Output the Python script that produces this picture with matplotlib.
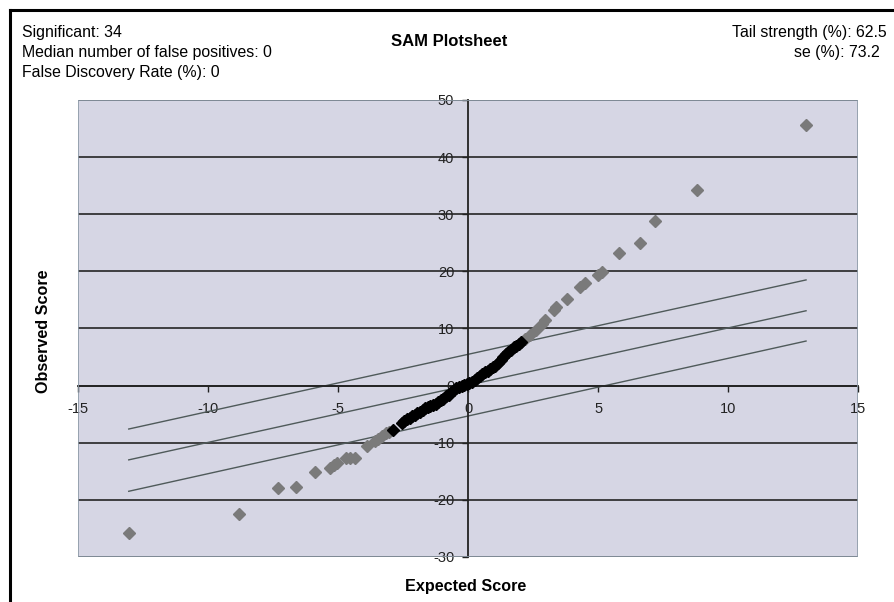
import matplotlib
matplotlib.use('Agg')
import matplotlib.pyplot as plt
from matplotlib.patches import Rectangle
from matplotlib.lines import Line2D

plt.rcParams['font.family'] = ['Liberation Sans', 'DejaVu Sans']
plt.rcParams['axes.unicode_minus'] = False

# significant genes (grey)
sig_x = [-13.05, -8.8, -7.3, -6.6, -5.9, -5.3, -5.15, -5.05, -4.7, -4.55,
         -4.35, -3.88, -3.58, -3.46, -3.3, -3.15, -3.05,
         2.2, 2.4, 2.6, 2.85, 2.95, 3.3, 3.4, 3.8, 4.3, 4.5,
         5.0, 5.15, 5.8, 6.6, 7.2, 8.8, 13.0]
sig_y = [-25.8, -22.4, -17.9, -17.8, -15.1, -14.4, -13.9, -13.6, -12.7, -12.7,
         -12.7, -10.6, -9.7, -9.3, -8.8, -8.3, -8.1,
         8.2, 8.9, 9.8, 10.8, 11.5, 13.2, 13.7, 15.2, 17.2, 17.9,
         19.4, 19.9, 23.2, 25.0, 28.8, 34.3, 45.6]

# non-significant genes (black)
ns_x = [-2.9, -2.55, -2.45, -2.35, -2.25, -2.15, -2.05, -1.95, -1.85, -1.75,
        -1.65, -1.55, -1.45, -1.35, -1.25, -1.15, -1.05, -0.95, -0.85,
        -0.75, -0.65, -0.55, -0.45, -0.35, -0.25, -0.15, -0.05, 0.05,
        0.15, 0.25, 0.35, 0.45, 0.55, 0.65, 0.75, 0.85, 0.95, 1.05, 1.15,
        1.25, 1.35, 1.45, 1.55, 1.65, 1.75, 1.85, 1.95, 2.05]
ns_y = [-7.7, -6.6, -6.2, -5.9, -5.6, -5.4, -5.1, -4.8, -4.6, -4.3,
        -4.0, -3.8, -3.6, -3.4, -3.2, -2.9, -2.6, -2.3, -1.9,
        -1.6, -1.2, -0.8, -0.5, -0.3, -0.1, 0.1, 0.2, 0.4,
        0.7, 1.0, 1.3, 1.7, 2.0, 2.3, 2.6, 2.9, 3.2, 3.5, 3.9,
        4.4, 5.0, 5.5, 5.9, 6.3, 6.7, 7.0, 7.3, 7.6]

# delta band lines
band_x = [-13.05, 13.0]
upper_y = [-7.6, 18.5]
middle_y = [-13.0, 13.1]
lower_y = [-18.5, 7.8]

x_ticks = [-15, -10, -5, 0, 5, 10, 15]
y_ticks = [-30, -20, -10, 0, 10, 20, 30, 40, 50]

fig = plt.figure(figsize=(8.95, 6.02), dpi=100)
ax = fig.add_axes([0.0872, 0.0748, 0.8715, 0.7591])
ax.set_facecolor('#d6d6e4')

ax.set_xlim(-15, 15)
ax.set_ylim(-30, 50)
ax.set_xticks(x_ticks)
ax.set_yticks(y_ticks)
ax.yaxis.grid(True, color='#333333', linewidth=1.3)
ax.set_axisbelow(True)

# excel style axes crossing at zero
ax.spines['left'].set_position(('data', 0))
ax.spines['bottom'].set_position(('data', 0))
ax.spines['top'].set_visible(False)
ax.spines['right'].set_visible(False)
for s in ['left', 'bottom']:
    ax.spines[s].set_color('#222222')
    ax.spines[s].set_linewidth(1.3)
ax.tick_params(axis='both', direction='out', length=4, width=1,
               labelsize=10.5, colors='#222222')
ax.tick_params(axis='x', pad=8)
ax.tick_params(axis='y', pad=6)

ax.add_patch(Rectangle((0, 0), 1, 1, transform=ax.transAxes, fill=False,
                       edgecolor='#8c99a6', linewidth=1.2, zorder=5))

for yy in [upper_y, middle_y, lower_y]:
    ax.plot(band_x, yy, color='#4f5a5a', linewidth=1.0, zorder=2)

ax.plot(sig_x, sig_y, linestyle='none', marker='D', markersize=5.8,
        color='#7a7a7a', zorder=3)
ax.plot(ns_x, ns_y, linestyle='none', marker='D', markersize=6,
        color='black', zorder=4)

# header texts
fs = 11.4
fig.text(22 / 895, 1 - 32 / 602, 'Significant: 34', fontsize=fs, va='center')
fig.text(22 / 895, 1 - 52 / 602, 'Median number of false positives: 0',
         fontsize=fs, va='center')
fig.text(22 / 895, 1 - 72 / 602, 'False Discovery Rate (%): 0',
         fontsize=fs, va='center')
fig.text(887 / 895, 1 - 32 / 602, 'Tail strength (%): 62.5', fontsize=fs,
         va='center', ha='right')
fig.text(880 / 895, 1 - 52 / 602, 'se (%): 73.2', fontsize=fs,
         va='center', ha='right')
fig.text(449 / 895, 1 - 41 / 602, 'SAM Plotsheet', fontsize=12,
         fontweight='bold', va='center', ha='center')
fig.text(466 / 895, 1 - 587 / 602, 'Expected Score', fontsize=11.6,
         fontweight='bold', va='center', ha='center')
fig.text(44 / 895, 1 - 331 / 602, 'Observed Score', fontsize=11.6,
         fontweight='bold', va='center', ha='center', rotation=90)

# outer frame (left and top edges only)
fig.add_artist(Line2D([10 / 895, 10 / 895], [0, 1 - 10 / 602],
                      transform=fig.transFigure, color='black', linewidth=2.2))
fig.add_artist(Line2D([10 / 895, 1], [1 - 10 / 602, 1 - 10 / 602],
                      transform=fig.transFigure, color='black', linewidth=2.2))

fig.savefig('out.png', dpi=100)
